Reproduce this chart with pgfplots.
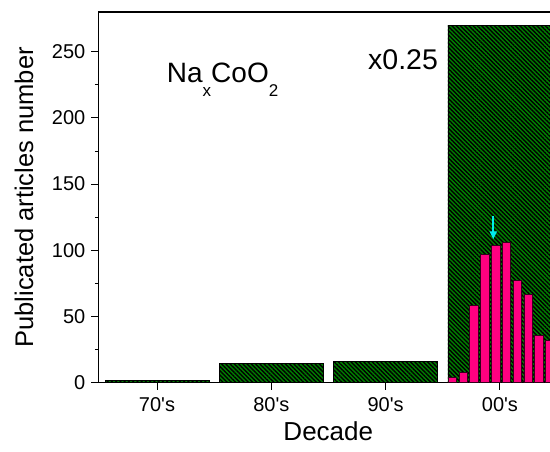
\documentclass[border=0pt]{standalone}
\usepackage{fontspec}
\setmainfont{Liberation Sans}
\usepackage{pgfplots}
\pgfplotsset{compat=1.18}
\usetikzlibrary{patterns.meta,arrows.meta}
\definecolor{hatchgreen}{RGB}{0,128,0}
\definecolor{barpink}{RGB}{255,0,128}
\definecolor{arrowcyan}{RGB}{0,235,235}
\begin{document}
\begin{tikzpicture}
\begin{axis}[
  at={(0,0)}, anchor=south west,
  x=114.3pt, y=1.3239pt,
  xmin=-0.512, xmax=3.438,
  ymin=0, ymax=280,
  axis x line*=box, axis y line*=left,
  axis line style={line width=1.2pt},
  xtick={0,1,2,3},
  xticklabels={70\textquotesingle s,80\textquotesingle s,90\textquotesingle s,00\textquotesingle s},
  xtick pos=bottom, ytick pos=left,
  ytick={0,50,100,150,200,250},
  minor y tick num=1,
  tick align=outside,
  major tick length=7pt, minor tick length=3.5pt,
  every tick/.style={black, line width=1pt},
  /pgf/number format/assume math mode=true,
  tick label style={font=\fontsize{20}{24}\selectfont},
  yticklabel style={inner sep=0pt, anchor=east, xshift=-6pt},
  xticklabel style={inner sep=0pt, anchor=north, yshift=-8pt},
  xlabel={Decade},
  ylabel={Publicated articles number},
  every axis x label/.style={at={(axis description cs:0.509,-0.156)}, anchor=base, font=\fontsize{26}{30}\selectfont},
  every axis y label/.style={at={(axis description cs:-0.145,0.5)}, anchor=base, rotate=90, font=\fontsize{25.5}{30}\selectfont},
  clip=true,
]
% decades (00's bar shown x0.25)
\addplot[ybar, bar width=0.91, bar shift=0pt, draw=black, line width=0.8pt, fill=hatchgreen,
  postaction={pattern={Lines[angle=-45,distance=3pt,line width=1.4pt]}, pattern color=black}]
  coordinates {(0,1.8) (1,14.7) (2,16.2) (3,270)};
% yearly counts 2000-2009
\addplot[ybar, bar width=0.074, bar shift=0pt, draw=black!80!barpink, line width=0.8pt, fill=barpink]
  coordinates {(2.585,3.8) (2.680,7.6) (2.774,58.6) (2.869,97) (2.963,104)
               (3.058,106) (3.152,77.4) (3.247,66.8) (3.341,35.8) (3.436,32)};
\draw[arrowcyan, line width=2pt, -{Triangle[length=8pt,width=7pt]}]
  (axis cs:2.942,126) -- (axis cs:2.942,108.3);
\node[anchor=base west, inner sep=0pt, font=\fontsize{28}{32}\selectfont] at (axis cs:0.085,226.4)
  {Na\raisebox{-14pt}{\fontsize{17}{17}\selectfont x}CoO\raisebox{-14pt}{\fontsize{17}{17}\selectfont 2}};
\node[anchor=base west, inner sep=0pt, font=\fontsize{28.5}{32}\selectfont] at (axis cs:1.846,236.6) {x0.25};
\end{axis}
\pgfresetboundingbox
\path[use as bounding box] (-98.5pt,-69.3pt) rectangle (451.5pt,382.7pt);
\end{tikzpicture}
\end{document}
